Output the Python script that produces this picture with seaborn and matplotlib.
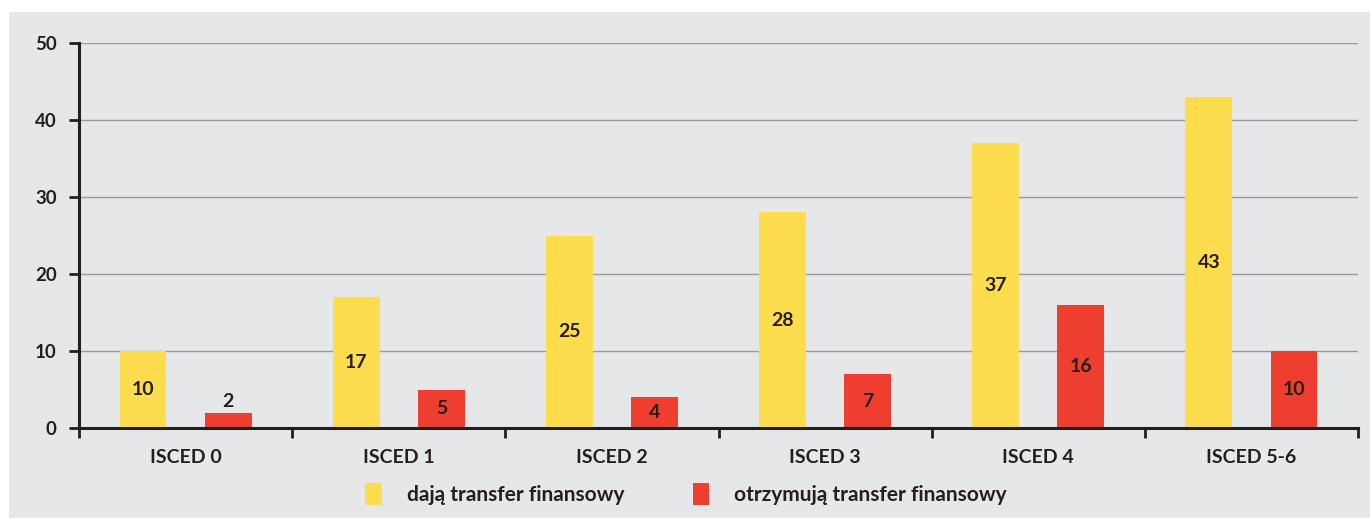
import pandas as pd
import seaborn as sns
import matplotlib.pyplot as plt
from matplotlib.patches import Rectangle
from matplotlib.ticker import FixedLocator

categories = ['ISCED 0', 'ISCED 1', 'ISCED 2', 'ISCED 3', 'ISCED 4', 'ISCED 5-6']
daja = [10, 17, 25, 28, 37, 43]
otrzymuja = [2, 5, 4, 7, 16, 10]
series_names = ['dają transfer finansowy', 'otrzymują transfer finansowy']

df = pd.DataFrame({
    'kat': categories * 2,
    'val': daja + otrzymuja,
    'seria': [series_names[0]] * len(daja) + [series_names[1]] * len(otrzymuja),
})

sns.set_style('white')
plt.rcParams['font.family'] = ['Lato', 'DejaVu Sans']
dark = '#231f20'
bg = '#e6e7e9'

fig = plt.figure(figsize=(13.7, 5.19), dpi=100)
fig.patch.set_facecolor('white')
# grey panel behind the chart
fig.patches.append(Rectangle((9 / 1370, 1 / 519), 1 - 9 / 1370, 1 - 13 / 519,
                             transform=fig.transFigure, facecolor=bg,
                             edgecolor='none', zorder=-10))

ax = fig.add_axes([79 / 1370, 1 - 428 / 519, (1358 - 79) / 1370, (428 - 43) / 519])
ax.set_facecolor(bg)

sns.barplot(data=df, x='kat', y='val', hue='seria', order=categories,
            hue_order=series_names, palette=['#fddc4e', '#ee3e2f'],
            width=0.8, gap=0.45, saturation=1, linewidth=0,
            ax=ax, zorder=3, legend=True)

ax.set_xlim(-0.5, 5.5)
ax.set_ylim(0, 50)
ax.set_yticks([0, 10, 20, 30, 40, 50])
ax.yaxis.grid(True, color='#9a9a9a', linewidth=1.0, zorder=0)
ax.set_xlabel('')
ax.set_ylabel('')

for s in ['top', 'right']:
    ax.spines[s].set_visible(False)
for s in ['left', 'bottom']:
    ax.spines[s].set_color(dark)
    ax.spines[s].set_linewidth(2.2)
    ax.spines[s].set_zorder(5)

ax.tick_params(axis='y', direction='out', length=7, width=2, color=dark,
               labelsize=13.5, labelcolor=dark, pad=9, left=True)
ax.tick_params(axis='x', which='major', length=0, labelsize=14, labelcolor=dark, pad=15)
ax.xaxis.set_minor_locator(FixedLocator([i - 0.5 for i in range(len(categories) + 1)]))
ax.tick_params(axis='x', which='minor', direction='out', length=7, width=2, color=dark,
               bottom=True)
for lbl in ax.get_xticklabels() + ax.get_yticklabels():
    lbl.set_fontweight('bold')

# value labels: centred in the bar, above it when the bar is short
for cont in ax.containers:
    for bar in cont:
        h = bar.get_height()
        cx = bar.get_x() + bar.get_width() / 2
        if h < 3:
            ax.text(cx, h + 0.4, f'{h:.0f}', ha='center', va='bottom',
                    fontsize=14, fontweight='bold', color=dark, zorder=6)
        else:
            ax.text(cx, h / 2, f'{h:.0f}', ha='center', va='center',
                    fontsize=14, fontweight='bold', color=dark, zorder=6)

handles, labels = ax.get_legend_handles_labels()
ax.get_legend().remove()
leg = fig.legend(handles, labels, loc='center', bbox_to_anchor=(686 / 1370, 1 - 494 / 519),
                 ncol=2, frameon=False, handlelength=0.8, handleheight=1.2,
                 handletextpad=1.2, columnspacing=3.3,
                 prop={'size': 15, 'weight': 'bold'})
for t in leg.get_texts():
    t.set_color(dark)

plt.savefig('out.png', dpi=100)
